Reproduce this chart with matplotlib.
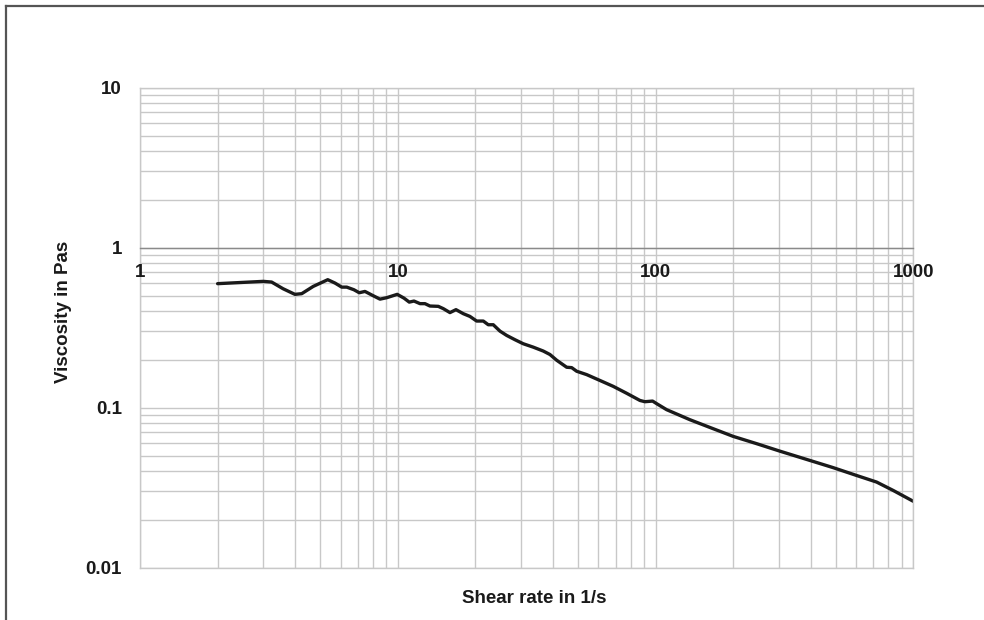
import numpy as np
import matplotlib
matplotlib.use("Agg")
import matplotlib.pyplot as plt
from matplotlib import ticker
from matplotlib.lines import Line2D

plt.rcParams['font.family'] = ['Liberation Sans', 'DejaVu Sans']

# shear rate (1/s) and viscosity (Pa s)
shear_rate = [2.0, 3.01, 3.24, 3.59, 3.99, 4.24, 4.70, 5.35, 5.71, 6.06,
              6.34, 6.76, 7.09, 7.46, 7.99, 8.53, 9.06, 9.95, 10.57, 11.08,
              11.56, 12.2, 12.75, 13.33, 14.36, 15.02, 15.94, 16.82, 17.95, 19.05,
              20.23, 21.47, 22.44, 23.47, 24.92, 26.45, 28.49, 30.68, 33.55, 36.68,
              38.94, 41.35, 45.21, 47.28, 49.43, 54.05, 60.85, 68.5, 77.3, 87.0,
              90.9, 97.4, 101.0, 110.4, 136.0, 167.4, 200.0, 246.7, 303.8, 385.7,
              489.0, 602.7, 720.4, 835.6, 1000.0]
viscosity = [0.596, 0.616, 0.610, 0.554, 0.511, 0.516, 0.573, 0.631, 0.601, 0.567,
             0.567, 0.546, 0.523, 0.533, 0.503, 0.477, 0.487, 0.511, 0.484, 0.457,
             0.464, 0.447, 0.447, 0.432, 0.430, 0.416, 0.393, 0.410, 0.387, 0.372,
             0.348, 0.348, 0.330, 0.330, 0.301, 0.283, 0.266, 0.251, 0.239, 0.226,
             0.215, 0.198, 0.179, 0.178, 0.169, 0.161, 0.148, 0.136, 0.123, 0.111,
             0.109, 0.110, 0.106, 0.0972, 0.0841, 0.0739, 0.0662, 0.0596, 0.0535, 0.0475,
             0.0422, 0.0377, 0.0343, 0.0304, 0.0260]

W, H = 984, 620
rect = [140 / W, 1 - 567.7 / H, (913.3 - 140) / W, (567.7 - 87.7) / H]
fig = plt.figure(figsize=(W / 100, H / 100), dpi=100)
ax = fig.add_axes(rect)

grid_col = '#c8c8c8'
txt_col = '#1a1a1a'
ax.set_xscale('log')
ax.set_yscale('log')
ax.set_xlim(1, 1000)
ax.set_ylim(0.01, 10)

for axis in [ax.xaxis, ax.yaxis]:
    axis.set_major_locator(ticker.LogLocator(base=10))
    axis.set_minor_locator(ticker.LogLocator(base=10, subs=np.arange(2, 10)))
    axis.set_major_formatter(ticker.FormatStrFormatter('%g'))
    axis.set_minor_formatter(ticker.NullFormatter())

ax.grid(which='both', color=grid_col, lw=1)
ax.set_axisbelow(True)
ax.tick_params(which='both', length=0, labelbottom=False, labelleft=False)
for s in ax.spines.values():
    s.set_color(grid_col)
    s.set_linewidth(1)

ax.plot(shear_rate, viscosity, color=txt_col, lw=2.4, solid_joinstyle='round',
        solid_capstyle='round')

# overlay axes only for the tick labels, so they sit on top of the grid
lab = fig.add_axes(rect, sharex=ax, sharey=ax, facecolor='none')
lab.grid(False)
for s in ['top', 'right', 'left']:
    lab.spines[s].set_visible(False)
# x axis crosses at viscosity = 1
lab.spines['bottom'].set_position(('data', 1))
lab.spines['bottom'].set_color('#8a8a8a')
lab.spines['bottom'].set_linewidth(1)
lab.tick_params(which='both', length=0)
lab.tick_params(axis='x', pad=12)
lab.tick_params(axis='y', pad=13)
for t in lab.get_xticklabels() + lab.get_yticklabels():
    t.set_fontsize(13.5)
    t.set_fontweight('bold')
    t.set_color(txt_col)

fig.text(64 / W, 1 - 312 / H, 'Viscosity in Pas', rotation=90, ha='center', va='center',
         fontsize=13.5, fontweight='bold', color=txt_col)
fig.text(534 / W, 1 - 598.5 / H, 'Shear rate in 1/s', ha='center', va='center',
         fontsize=13.5, fontweight='bold', color=txt_col)

# outer frame (left and top edges)
fig.add_artist(Line2D([6 / W, 6 / W], [0, 1 - 6 / H], color='#555555', lw=1.6))
fig.add_artist(Line2D([6 / W, 1], [1 - 6 / H, 1 - 6 / H], color='#555555', lw=1.6))

fig.savefig('out.png', dpi=100)
